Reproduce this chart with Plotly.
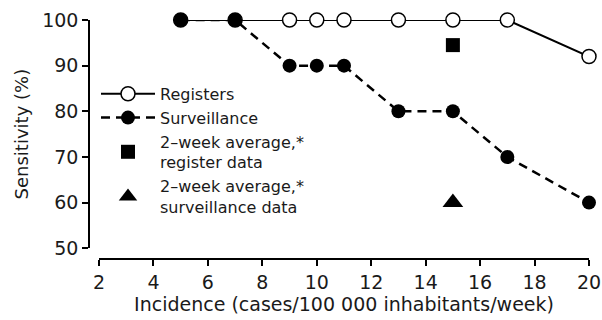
import plotly.graph_objects as go

incidence = [5, 7, 9, 10, 11, 13, 15, 17, 20]
registers = [100, 100, 100, 100, 100, 100, 100, 100, 92]
surveillance = [100, 100, 90, 90, 90, 80, 80, 70, 60]
avg_x = [15]
avg_register = [94.5]
avg_surveillance = [60]
x_ticks = [2, 4, 6, 8, 10, 12, 14, 16, 18, 20]
y_ticks = [50, 60, 70, 80, 90, 100]

FONT = "DejaVu Sans"
fig = go.Figure()
fig.add_trace(go.Scatter(x=incidence, y=registers, name="Registers", mode="lines+markers",
                         line=dict(color="black", width=2),
                         marker=dict(symbol="circle", size=14, color="white",
                                     line=dict(color="black", width=1.5)),
                         cliponaxis=False))
fig.add_trace(go.Scatter(x=incidence, y=surveillance, name="Surveillance", mode="lines+markers",
                         line=dict(color="black", width=2.5, dash="9px,6px"),
                         marker=dict(symbol="circle", size=14, color="black"),
                         cliponaxis=False))
fig.add_trace(go.Scatter(x=avg_x, y=avg_register, name="2–week average,*<br>register data",
                         mode="markers", marker=dict(symbol="square", size=14, color="black"),
                         cliponaxis=False))
fig.add_trace(go.Scatter(x=avg_x, y=avg_surveillance, name="2–week average,*<br>surveillance data",
                         mode="markers", marker=dict(symbol="triangle-up", size=18, color="black"),
                         cliponaxis=False))

fig.update_layout(
    width=602, height=320,
    margin=dict(l=89, r=13, t=20, b=61),
    paper_bgcolor="white", plot_bgcolor="white",
    font=dict(family=FONT, size=19, color="#1a1a1a"),
    showlegend=True,
    legend=dict(x=0.014, y=0.762, xanchor="left", yanchor="top", bgcolor="rgba(0,0,0,0)",
                font=dict(size=16), tracegroupgap=0, itemwidth=54),
    xaxis=dict(range=[2, 20], domain=[0.02, 1], tickvals=x_ticks, showgrid=False, zeroline=False,
               showline=True, linecolor="black", linewidth=1.5, ticks="outside", ticklen=6,
               tickcolor="black", tickwidth=1.5, anchor="free", position=0, automargin=False,
               tickfont=dict(size=19),
               title=dict(text="Incidence (cases/100 000 inhabitants/week)", standoff=2,
                          font=dict(size=19))),
    yaxis=dict(range=[50, 100], domain=[0.045, 1], tickvals=y_ticks, showgrid=False, zeroline=False,
               showline=True, linecolor="black", linewidth=1.5, ticks="outside", ticklen=6,
               tickcolor="black", tickwidth=1.5, anchor="free", position=0, automargin=False,
               tickfont=dict(size=19),
               title=dict(text="Sensitivity (%)", standoff=8, font=dict(size=18))),
)
fig.write_html("out.html", config={"displayModeBar": False},
               post_script="document.body.style.margin='0';")
